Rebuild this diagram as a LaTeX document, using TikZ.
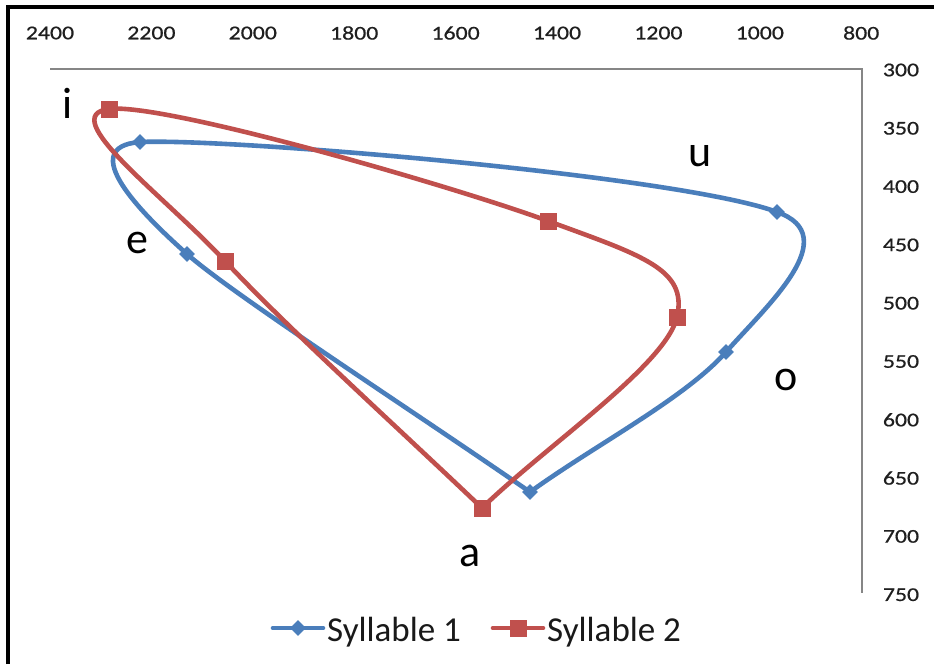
\documentclass[tikz,border=0pt]{standalone}
\usepackage{fontspec}
\setmainfont{Carlito}
\newfontfamily\tickfont[FakeStretch=1.22,FakeBold=0.6]{Carlito}
\usetikzlibrary{shapes.geometric}
\definecolor{serone}{RGB}{74,126,187}
\definecolor{sertwo}{RGB}{192,80,77}
\definecolor{axisgray}{RGB}{134,134,134}
\begin{document}
\begin{tikzpicture}[x=1pt,y=-1pt,
  ticklab/.style={font=\tickfont\fontsize{19.5}{19.5}\selectfont, text=black!88, inner sep=0pt},
  vowel/.style={font=\fontsize{44}{44}\selectfont, anchor=base, inner sep=0pt},
  legtext/.style={font=\fontsize{35}{35}\selectfont, anchor=base west, inner sep=0pt, text=black!90},
  serA/.style={draw=serone, line width=4.6pt, line join=round, line cap=round},
  serB/.style={draw=sertwo, line width=4.6pt, line join=round, line cap=round},
  dmark/.style={diamond, aspect=1, fill=serone, inner sep=0pt, minimum size=16pt},
  smark/.style={rectangle, fill=sertwo, inner sep=0pt, minimum size=17pt},
  axisline/.style={draw=axisgray, line width=1.3pt},
  frameline/.style={draw=black, line width=4pt}]
\useasboundingbox (0,0) rectangle (934,664);
\fill[white] (0,0) rectangle (934,664);
% outer frame (top and left edges)
\coordinate (ftl) at (7.5,7.2);
\coordinate (ftr) at (934,7.2);
\coordinate (fbl) at (7.5,664);
\draw[frameline] (fbl) -- (ftl) -- (ftr);
% plot area border
\coordinate (pl) at (50,69);
\coordinate (pr) at (862,69);
\coordinate (pb) at (862,593);
\draw[axisline] (pl) -- (pr) -- (pb);
% x tick labels
\foreach \v [count=\k from 0] in {2400,2200,2000,1800,1600,1400,1200,1000,800}
  \node[ticklab] (xt\k) at (50+101.4*\k,33) {\v};
% y tick labels
\foreach \v [count=\k from 0] in {300,350,400,450,500,550,600,650,700,750}
  \node[ticklab] (yt\k) at (901,70+58.3*\k) {\v};
% data points
\coordinate (ba) at (530,492);
\coordinate (be) at (187,254);
\coordinate (bi) at (140,142);
\coordinate (bu) at (777,212);
\coordinate (bo) at (726,352);
\coordinate (ra) at (482,508);
\coordinate (re) at (225,261);
\coordinate (ri) at (109,109);
\coordinate (ru) at (548,221);
\coordinate (ro) at (677,317);
% syllable 1
\draw[serA] (ba) .. controls (416,413) and (232,294) .. (be)
  .. controls (142,214) and (75,147) .. (bi)
  .. controls (230,138) and (680,176) .. (bu)
  .. controls (845,236) and (767.5,305) .. (bo)
  .. controls (684.5,398.7) and (595,445) .. (ba);
\foreach \p in {ba,be,bi,bu,bo}
  \node[dmark] (m\p) at (\p) {};
% syllable 2
\draw[serB] (ra) .. controls (396,426) and (287,327.5) .. (re)
  .. controls (163,194.5) and (55,115.7) .. (ri)
  .. controls (163,102.3) and (453.3,186.3) .. (ru)
  .. controls (642.7,255.7) and (688,269.2) .. (ro)
  .. controls (666,364.8) and (547,445) .. (ra);
\foreach \p in {ra,re,ri,ru,ro}
  \node[smark] (m\p) at (\p) {};
% vowel labels
\node[vowel] (li) at (68,118) {i};
\node[vowel] (le) at (137,253) {e};
\node[vowel] (lu) at (700,166) {u};
\node[vowel] (lo) at (786,390) {o};
\node[vowel] (la) at (470,566) {a};
% legend
\coordinate (l1a) at (273,628);
\coordinate (l1b) at (323,628);
\coordinate (l2a) at (493,628);
\coordinate (l2b) at (543,628);
\draw[serA] (l1a) -- (l1b);
\node[dmark] (lm1) at (298,628) {};
\node[legtext] (lt1) at (327,641) {Syllable 1};
\draw[serB] (l2a) -- (l2b);
\node[smark] (lm2) at (518,628) {};
\node[legtext] (lt2) at (547,641) {Syllable 2};
\end{tikzpicture}
\end{document}
